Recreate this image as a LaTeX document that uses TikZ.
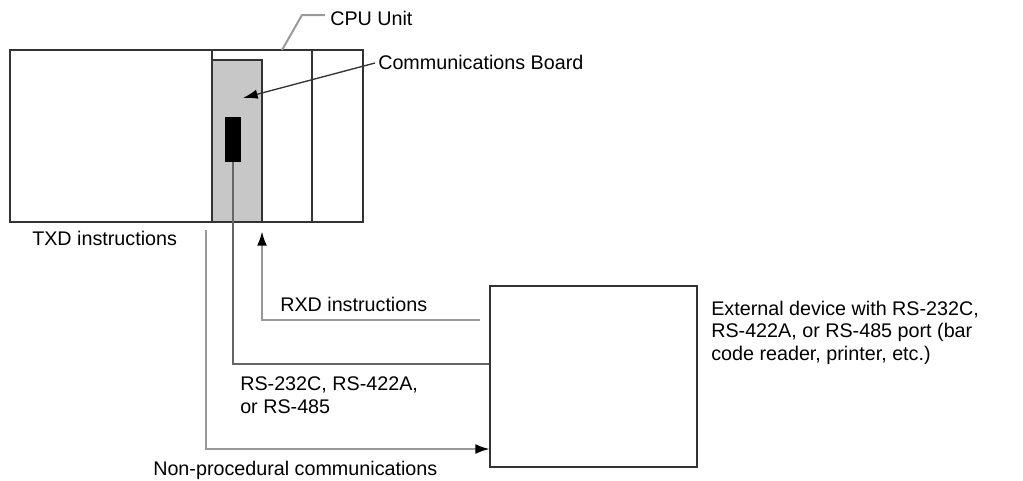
\documentclass[tikz,border=0pt]{standalone}
\usepackage{fontspec}
\setmainfont{Liberation Sans}
\usetikzlibrary{arrows.meta,fit,calc}
\begin{document}
\begin{tikzpicture}[x=0.75pt,y=-0.75pt,
  box/.style={draw=black!80,line width=1.9pt,inner sep=0pt},
  wire/.style={draw=black!40,line width=2pt},
  rswire/.style={draw=black!60,line width=1.6pt},
  arr/.style={-{Latex[length=11pt,width=7.5pt,color=black]}},
  lbl/.style={anchor=base west,inner sep=0pt,align=left,font=\fontsize{14.8}{16.8}\selectfont},
  lead/.style={draw=black!40,line width=1.5pt}]
\useasboundingbox (0,0) rectangle (1023,480);
% CPU unit
\node[box,fit={(10,50)(363,222)}] (cpu) {};
\node[box,fill=black!22,fit={(212,60)(262,222)}] (board) {};
\draw[box] (212,50) -- (212,60);
\draw[box] (312,50) -- (312,222);
\node[fill=black,inner sep=0pt,fit={(225,117)(241,162)}] (port) {};
% external device
\node[box,fit={(490,286)(697,467)}] (ext) {};
% labels
\node[lbl] (cpulbl) at (330,25) {CPU Unit};
\node[lbl] (boardlbl) at (378,69) {Communications Board};
\node[lbl] (txd) at (32,245) {TXD instructions};
\node[lbl] (rxd) at (280,311) {RXD instructions};
\node[lbl] (rs) at (240,413) {RS-232C, RS-422A,\\or RS-485};
\node[lbl] (np) at (153,475) {Non-procedural communications};
\node[lbl] (extlbl) at (711,360) {External device with RS-232C,\\RS-422A, or RS-485 port (bar\\code reader, printer, etc.)};
% leader lines
\coordinate (cpuA) at (282,50);
\coordinate (cpuB) at (302,15);
\draw[lead] (cpuA) -- (cpuB) -- ($(cpulbl.west |- cpuB)+(-5,0)$);
\coordinate (bdA) at (375,63);
\coordinate (bdB) at (243,98);
\draw[draw=black!80,line width=1pt,-{Latex[length=11pt,width=7pt,color=black]}] (bdA) -- (bdB);
% TXD / non-procedural
\coordinate (txdS) at (206,230);
\coordinate (txdE) at (490,449);
\draw[wire,arr] (txdS) |- (txdE);
% RS link
\draw[rswire] (port.south -| 233,0) |- (ext.west |- 0,364);
% RXD
\coordinate (rxdS) at (480,320);
\coordinate (rxdE) at (262,231);
\draw[wire,arr] (rxdS) -| (rxdE);
\end{tikzpicture}
\end{document}
